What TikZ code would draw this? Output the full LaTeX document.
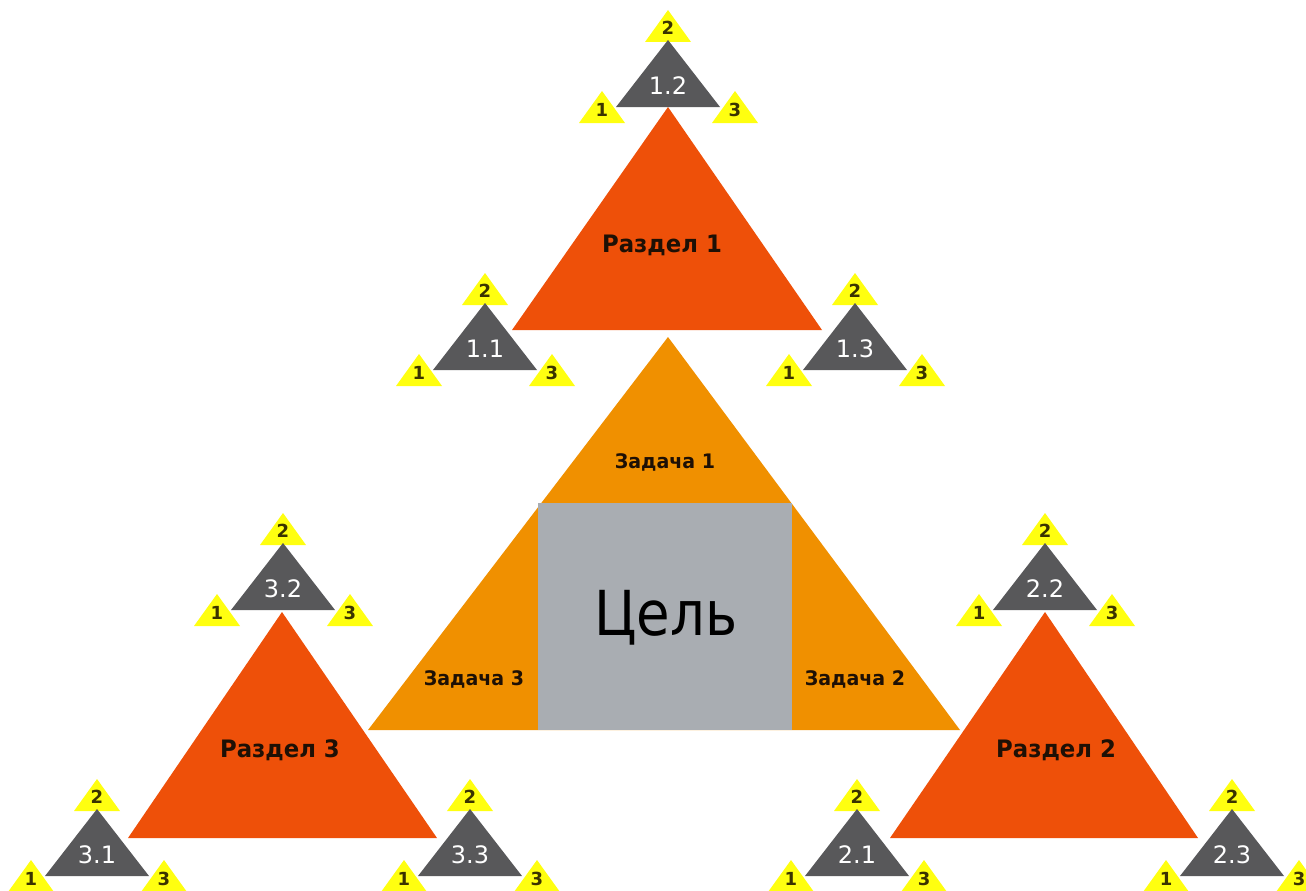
\documentclass[tikz,border=0pt]{standalone}
\usepackage{fontspec}
\setmainfont{DejaVu Sans}
\newfontfamily\celfont[FakeStretch=0.88]{DejaVu Sans}
\newfontfamily\boldnarrow[FakeStretch=0.95]{DejaVu Sans Bold}
\definecolor{razdel}{HTML}{EE5009}
\definecolor{zadacha}{HTML}{F09000}
\definecolor{celgray}{HTML}{A9ADB2}
\definecolor{darktri}{HTML}{58585A}
\definecolor{ylw}{HTML}{FFFF10}
\definecolor{txtdark}{HTML}{1E1005}
\definecolor{ylwtxt}{HTML}{3A3300}
\tikzset{
  ylwtri/.style={fill=ylw},
  darktriangle/.style={fill=darktri},
  ylwlbl/.style={font=\fontsize{18}{18}\selectfont\bfseries, text=ylwtxt, inner sep=0pt},
  dklbl/.style={font=\fontsize{24}{24}\selectfont, text=white, inner sep=0pt},
  razlbl/.style={font=\fontsize{24}{24}\boldnarrow, text=txtdark, inner sep=0pt},
  zadlbl/.style={font=\fontsize{20}{20}\boldnarrow, text=txtdark, inner sep=0pt},
  cellbl/.style={font=\fontsize{62}{62}\celfont, text=black, inner sep=0pt}
}
\newcommand\mycluster[4]{%
  \begin{scope}[shift={(#2,#3)}]
    \fill[ylwtri] (-23,-65) -- (0,-97) -- (23,-65) -- cycle;
    \fill[ylwtri] (-89,16) -- (-66,-16) -- (-43,16) -- cycle;
    \fill[ylwtri] (44,16) -- (67,-16) -- (90,16) -- cycle;
    \fill[darktriangle] (-52,0) -- (0,-67) -- (52,0) -- cycle;
    \node[dklbl] (#1-lbl) at (0,-21) {#4};
    \node[ylwlbl] (#1-two) at (0,-79) {2};
    \node[ylwlbl] (#1-one) at (-66,3) {1};
    \node[ylwlbl] (#1-three) at (67,3) {3};
  \end{scope}%
}
\begin{document}
\begin{tikzpicture}[x=1pt,y=-1pt]
\useasboundingbox (0,0) rectangle (1306,891);
% red triangles
\fill[razdel] (512,330) -- (668,107) -- (822,330) -- cycle;
\fill[razdel] (128,838) -- (282,612) -- (437,838) -- cycle;
\fill[razdel] (890,838) -- (1045,612) -- (1198,838) -- cycle;
\node[razlbl] (r1) at (662,245) {Раздел 1};
\node[razlbl] (r3) at (280,750) {Раздел 3};
\node[razlbl] (r2) at (1056,750) {Раздел 2};
% central
\fill[zadacha] (368,730) -- (668,337) -- (960,730) -- cycle;
\fill[celgray] (538,503) rectangle (792,730);
\node[zadlbl] (z1) at (665,462) {Задача 1};
\node[zadlbl] (z3) at (474,679) {Задача 3};
\node[zadlbl] (z2) at (855,679) {Задача 2};
\node[cellbl] (cel) at (666,618) {Цель};
% clusters
\mycluster{c12}{668}{107}{1.2}
\mycluster{c11}{485}{370}{1.1}
\mycluster{c13}{855}{370}{1.3}
\mycluster{c32}{283}{610}{3.2}
\mycluster{c22}{1045}{610}{2.2}
\mycluster{c31}{97}{876}{3.1}
\mycluster{c33}{470}{876}{3.3}
\mycluster{c21}{857}{876}{2.1}
\mycluster{c23}{1232}{876}{2.3}
\end{tikzpicture}
\end{document}
